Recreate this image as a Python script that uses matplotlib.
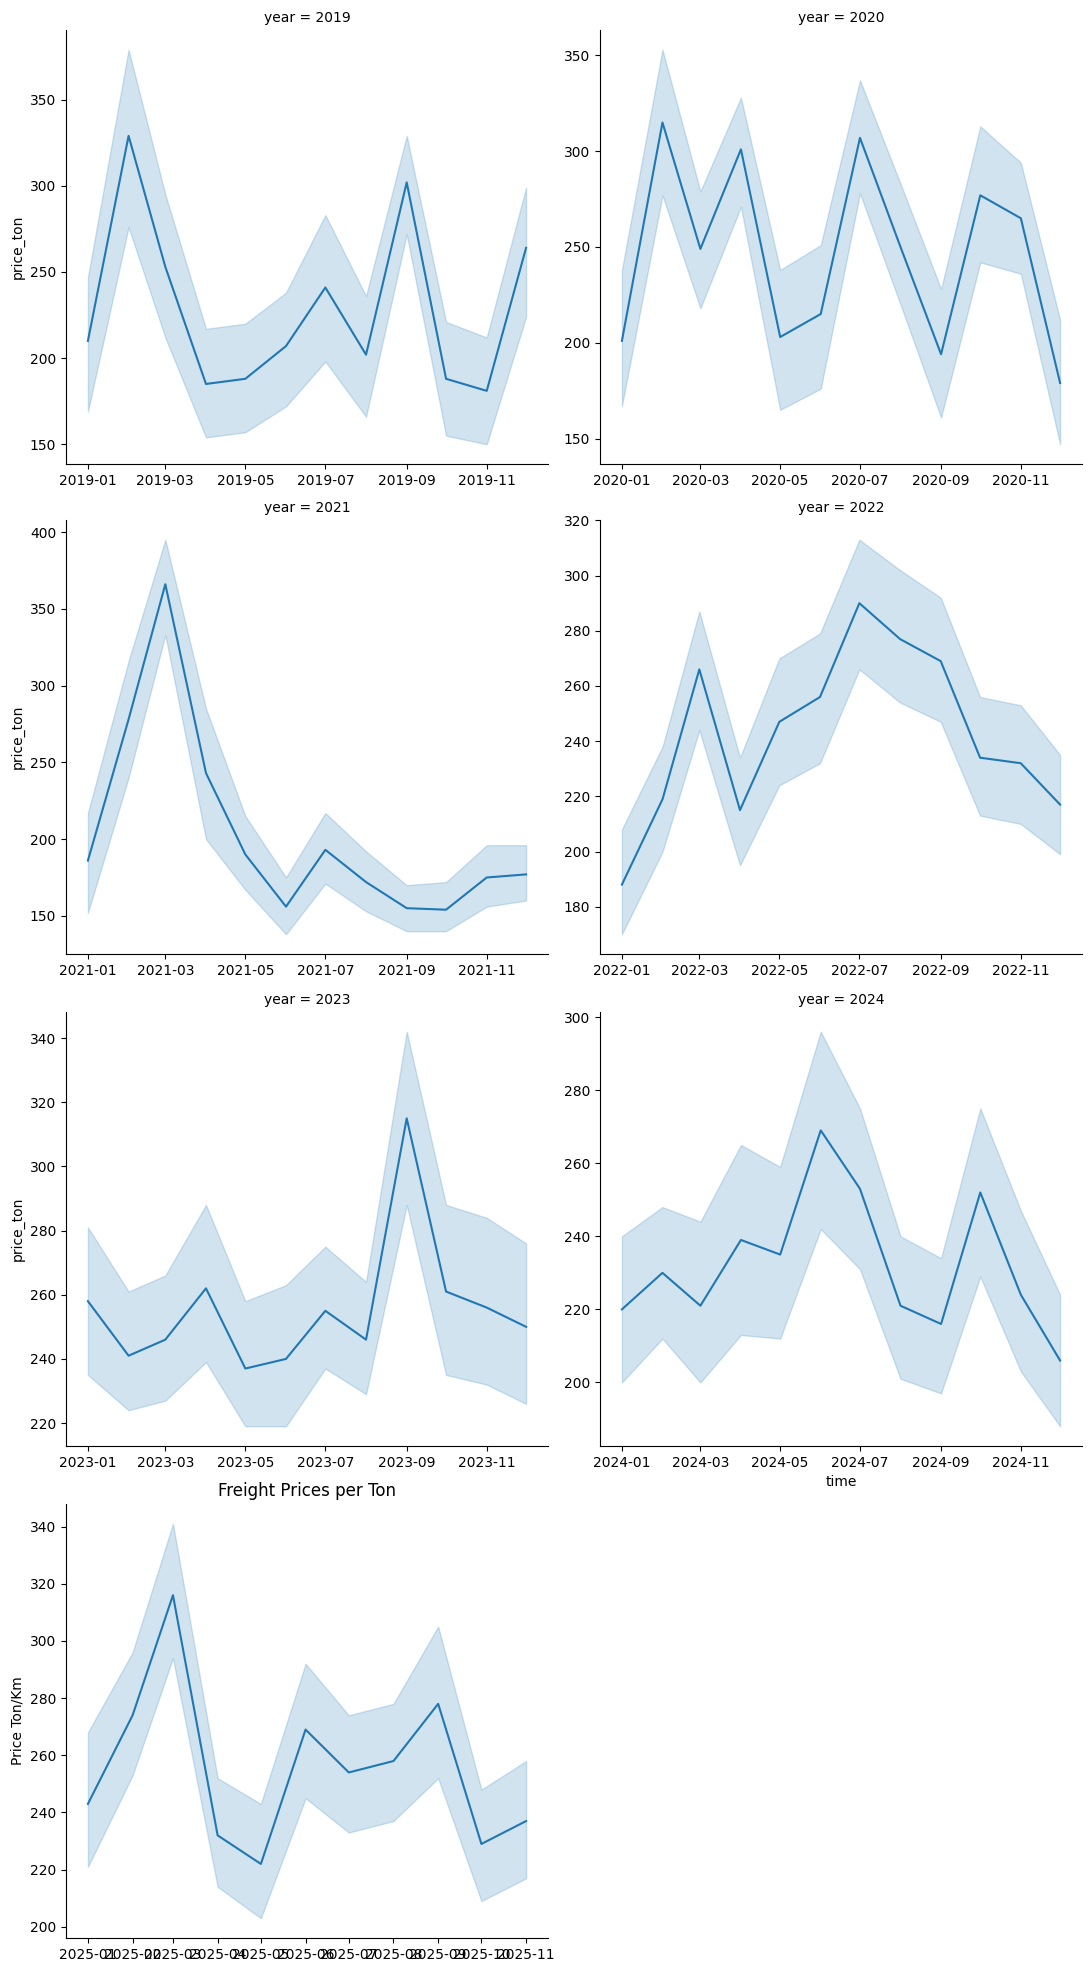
import numpy as np
import pandas as pd
import matplotlib
matplotlib.use("Agg")
import matplotlib.pyplot as plt

# ===============================
# Data: monthly mean price and 95% CI band
# ===============================
years = [2019, 2020, 2021, 2022, 2023, 2024, 2025]

mean_2019 = [210, 329, 253, 185, 188, 207, 241, 202, 302, 188, 181, 264]
lo_2019 = [169, 276, 212, 154, 157, 172, 198, 166, 272, 155, 150, 224]
hi_2019 = [247, 379, 295, 217, 220, 238, 283, 236, 329, 221, 212, 299]

mean_2020 = [201, 315, 249, 301, 203, 215, 307, 250, 194, 277, 265, 179]
lo_2020 = [167, 277, 218, 271, 165, 176, 278, 220, 161, 242, 236, 147]
hi_2020 = [238, 353, 279, 328, 238, 251, 337, 283, 228, 313, 294, 212]

mean_2021 = [186, 278, 366, 243, 190, 156, 193, 172, 155, 154, 175, 177]
lo_2021 = [152, 240, 333, 200, 167, 138, 171, 153, 140, 140, 156, 160]
hi_2021 = [217, 316, 395, 285, 215, 175, 217, 192, 170, 172, 196, 196]

mean_2022 = [188, 219, 266, 215, 247, 256, 290, 277, 269, 234, 232, 217]
lo_2022 = [170, 200, 244, 195, 224, 232, 266, 254, 247, 213, 210, 199]
hi_2022 = [208, 238, 287, 234, 270, 279, 313, 302, 292, 256, 253, 235]

mean_2023 = [258, 241, 246, 262, 237, 240, 255, 246, 315, 261, 256, 250]
lo_2023 = [235, 224, 227, 239, 219, 219, 237, 229, 288, 235, 232, 226]
hi_2023 = [281, 261, 266, 288, 258, 263, 275, 264, 342, 288, 284, 276]

mean_2024 = [220, 230, 221, 239, 235, 269, 253, 221, 216, 252, 224, 206]
lo_2024 = [200, 212, 200, 213, 212, 242, 231, 201, 197, 229, 203, 188]
hi_2024 = [240, 248, 244, 265, 259, 296, 275, 240, 234, 275, 247, 224]

mean_2025 = [243, 274, 316, 232, 222, 269, 254, 258, 278, 229, 237]
lo_2025 = [221, 253, 294, 214, 203, 245, 233, 237, 252, 209, 217]
hi_2025 = [268, 296, 341, 252, 243, 292, 274, 278, 305, 248, 258]

means = [mean_2019, mean_2020, mean_2021, mean_2022, mean_2023, mean_2024, mean_2025]
lows = [lo_2019, lo_2020, lo_2021, lo_2022, lo_2023, lo_2024, lo_2025]
highs = [hi_2019, hi_2020, hi_2021, hi_2022, hi_2023, hi_2024, hi_2025]

# ===============================
# Facet grid, 2 columns (placed by hand, pixel layout of a 1090x1970 canvas)
# ===============================
W, H = 1090, 1970
fig = plt.figure(figsize=(W / 100, H / 100))

col_x = [(66, 482), (600, 482)]          # left edge, width (px)
row_top = [30, 520, 1012, 1504]          # top edge (px)
ax_h = 434

color = "#1f77b4"
axes = []
for i, yr in enumerate(years):
    x0, w = col_x[i % 2]
    top = row_top[i // 2]
    ax = fig.add_axes([x0 / W, 1 - (top + ax_h) / H, w / W, ax_h / H])
    axes.append(ax)

    months = pd.date_range(f"{yr}-01-01", periods=len(means[i]), freq="MS")
    ax.plot(months, means[i], color=color, lw=1.5)
    ax.fill_between(months, lows[i], highs[i], color=color, alpha=0.2)
    ax.set_title(f"year = {yr}", fontsize=10)
    ax.spines["top"].set_visible(False)
    ax.spines["right"].set_visible(False)
    if i % 2 == 0:
        ax.set_ylabel("price_ton")

axes[5].set_xlabel("time")

# last facet gets its own labels
axes[6].set_title("Freight Prices per Ton", fontsize=12)
axes[6].set_ylabel("Price Ton/Km")

plt.savefig("out.png", dpi=100)
plt.close()
